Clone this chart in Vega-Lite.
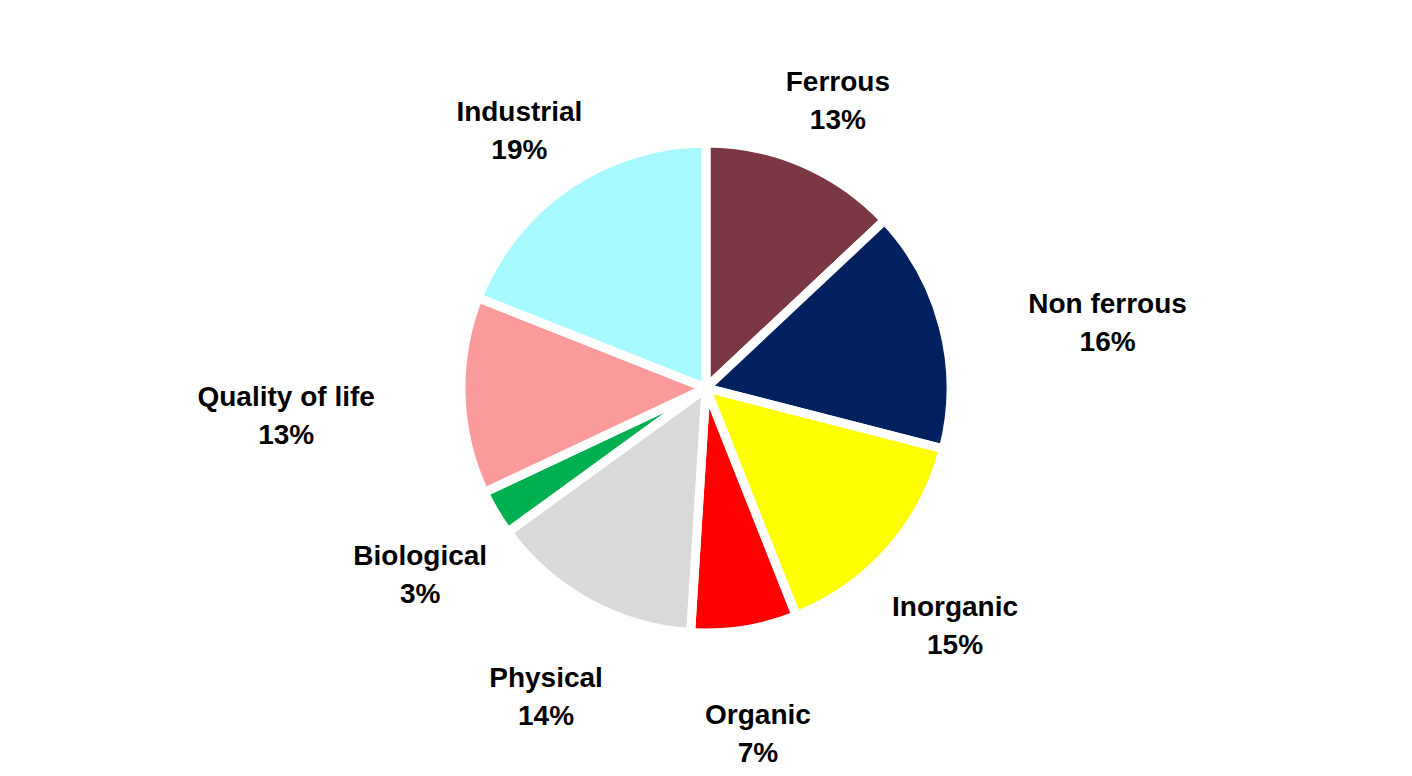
{
  "$schema": "https://vega.github.io/schema/vega-lite/v6.json",
  "width": 1412,
  "height": 776,
  "autosize": {"type": "fit", "contains": "padding"},
  "background": "white",
  "config": {"view": {"stroke": null}},
  "data": {
    "values": [
      {"idx": 1, "category": "Ferrous", "value": 13, "label": "Ferrous\n13%"},
      {"idx": 2, "category": "Non ferrous", "value": 16, "label": "Non ferrous\n16%"},
      {"idx": 3, "category": "Inorganic", "value": 15, "label": "Inorganic\n15%"},
      {"idx": 4, "category": "Organic", "value": 7, "label": "Organic\n7%"},
      {"idx": 5, "category": "Physical", "value": 14, "label": "Physical\n14%"},
      {"idx": 6, "category": "Biological", "value": 3, "label": "Biological\n3%"},
      {"idx": 7, "category": "Quality of life", "value": 13, "label": "Quality of life\n13%"},
      {"idx": 8, "category": "Industrial", "value": 19, "label": "Industrial\n19%"}
    ]
  },
  "encoding": {
    "theta": {"field": "value", "type": "quantitative", "stack": true},
    "order": {"field": "idx", "type": "quantitative"},
    "color": {
      "field": "category",
      "type": "nominal",
      "legend": null,
      "scale": {
        "domain": ["Ferrous", "Non ferrous", "Inorganic", "Organic", "Physical", "Biological", "Quality of life", "Industrial"],
        "range": ["#7B3743", "#002060", "#FFFF00", "#FF0000", "#D9D9D9", "#00B050", "#FA9A9A", "#A6FAFF"]
      }
    }
  },
  "layer": [
    {
      "mark": {"type": "arc", "outerRadius": 245, "stroke": "white", "strokeWidth": 9}
    },
    {
      "mark": {
        "type": "text",
        "radius": 332,
        "lineBreak": "\n",
        "font": "Liberation Sans",
        "fontWeight": "bold",
        "fontSize": 28,
        "lineHeight": 38,
        "fill": "black",
        "align": "center",
        "dx": {"expr": "datum.idx == 2 ? 80 : (datum.idx == 7 ? -88 : 0)"},
        "baseline": "middle"
      },
      "encoding": {
        "text": {"field": "label", "type": "nominal"},
        "color": {"value": "black"}
      }
    }
  ]
}
